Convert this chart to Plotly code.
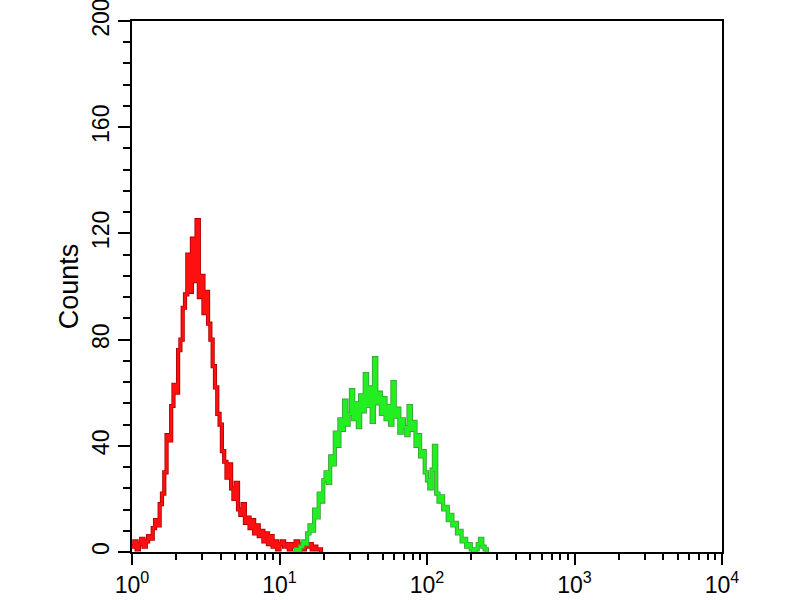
import plotly.graph_objects as go

# ---- data ----
CHANNELS_PER_DECADE = 64
red_start_channel = 0
red_counts = [2, 4, 1, 3, 5, 2, 4, 6, 5, 9, 12, 10, 18, 22, 30, 44, 42, 55, 63, 60,
              76, 80, 92, 97, 112, 98, 118, 102, 125, 96, 104, 90, 98, 86, 80, 70, 62, 52, 48, 38,
              34, 28, 33, 24, 20, 26, 16, 14, 18, 11, 13, 9, 12, 7, 10, 6, 8, 4, 7, 3,
              6, 2, 4, 1, 3, 4, 2, 3, 1, 3, 2, 4, 2, 3, 1, 3, 2, 3, 1, 2,
              1, 1, 0]
green_start_channel = 70
green_counts = [0, 1, 0, 2, 4, 3, 7, 10, 8, 16, 13, 22, 19, 27, 30, 26, 36, 33, 45, 40,
                50, 46, 57, 48, 52, 61, 50, 56, 47, 59, 53, 67, 55, 62, 49, 73, 56, 60, 52, 58,
                50, 55, 48, 64, 51, 54, 45, 50, 47, 44, 55, 46, 49, 40, 44, 36, 38, 30, 27, 24,
                31, 40, 22, 19, 21, 16, 17, 12, 14, 10, 11, 7, 8, 4, 5, 2, 3, 1, 0, 1,
                3, 5, 2, 1, 0]

x_tick_vals = [1, 10, 100, 1000, 10000]
x_tick_text = ["10<sup>0</sup>", "10<sup>1</sup>", "10<sup>2</sup>", "10<sup>3</sup>", "10<sup>4</sup>"]
x_minor_vals = [m * d for d in (1, 10, 100, 1000) for m in range(2, 10)]
y_tick_vals = [0, 40, 80, 120, 160, 200]


def channel_x(start, n):
    return [10 ** ((start + i) / CHANNELS_PER_DECADE) for i in range(n)]


red_x = channel_x(red_start_channel, len(red_counts))
green_x = channel_x(green_start_channel, len(green_counts))

fig = go.Figure()
for xs, ys, dark, bright in ((red_x, red_counts, "#b00000", "#ff1010"),
                             (green_x, green_counts, "#3aa03a", "#22ee22")):
    fig.add_trace(go.Scatter(x=xs, y=ys, mode="lines",
                             line=dict(color=dark, width=4.2, shape="hv"),
                             showlegend=False, hoverinfo="skip"))
    fig.add_trace(go.Scatter(x=xs, y=ys, mode="lines",
                             line=dict(color=bright, width=2.5, shape="hv"),
                             showlegend=False, hoverinfo="skip"))

axis_font = dict(family="Liberation Sans, Arial, sans-serif", size=23, color="black")

fig.update_layout(
    width=800, height=600,
    margin=dict(l=132, r=78, t=21, b=48),
    paper_bgcolor="white", plot_bgcolor="white",
    xaxis=dict(
        type="log", range=[0, 4], automargin=False,
        tickvals=x_tick_vals, ticktext=x_tick_text,
        ticks="outside", ticklen=11, tickwidth=2, tickcolor="black",
        minor=dict(tickvals=x_minor_vals, ticks="outside", ticklen=6, tickwidth=2, tickcolor="black"),
        showline=True, linecolor="black", linewidth=2, mirror=True,
        showgrid=False, zeroline=False,
        tickfont=axis_font, ticklabeloverflow="allow",
    ),
    yaxis=dict(
        range=[0, 200], automargin=False,
        tickvals=y_tick_vals,
        ticks="outside", ticklen=12, tickwidth=2, tickcolor="black",
        minor=dict(dtick=8, ticks="outside", ticklen=7, tickwidth=2, tickcolor="black"),
        showline=True, linecolor="black", linewidth=2, mirror=True,
        showgrid=False, zeroline=False,
        tickangle=-90,
        tickfont=axis_font, ticklabeloverflow="allow",
        title=dict(text="Counts", font=dict(family="Liberation Sans, Arial, sans-serif", size=27, color="black"),
                   standoff=1),
    ),
)

fig.write_html("out.html",
               config={"displayModeBar": False},
               post_script="document.body.style.margin='0';document.body.style.overflow='hidden';")
